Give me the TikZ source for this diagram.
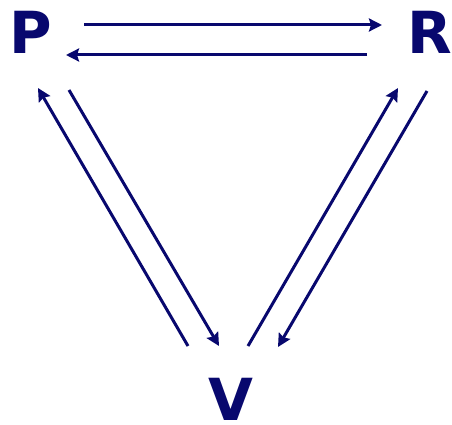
\documentclass[tikz,border=0pt]{standalone}
\usepackage{fontspec}
\setmainfont{DejaVu Sans}
\usetikzlibrary{arrows.meta}
\definecolor{navy}{RGB}{8,8,110}
\begin{document}
\begin{tikzpicture}[x=1pt,y=-1pt,
  letter/.style={text=navy,font=\fontsize{58}{58}\selectfont\bfseries,inner sep=0pt,anchor=center},
  conn/.style={draw=navy,line width=3pt,-{Stealth[length=13pt,width=13pt,inset=2pt]}}]
\useasboundingbox (0,0) rectangle (452,425);
\node[letter] (P) at (31,32) {P};
\node[letter] (R) at (430,32) {R};
\node[letter] (V) at (231,399) {V};
% endpoints
\coordinate (PRa) at (84,25);  \coordinate (PRb) at (382,25);
\coordinate (RPa) at (367,55); \coordinate (RPb) at (66,55);
\coordinate (PVa) at (69,90);  \coordinate (PVb) at (219,346);
\coordinate (VPa) at (188,346);\coordinate (VPb) at (38,88);
\coordinate (VRa) at (248,346);\coordinate (VRb) at (398,88);
\coordinate (RVa) at (427,91); \coordinate (RVb) at (278,347);
\draw[conn] (PRa) -- (PRb);
\draw[conn] (RPa) -- (RPb);
\draw[conn] (PVa) -- (PVb);
\draw[conn] (VPa) -- (VPb);
\draw[conn] (VRa) -- (VRb);
\draw[conn] (RVa) -- (RVb);
\end{tikzpicture}
\end{document}
